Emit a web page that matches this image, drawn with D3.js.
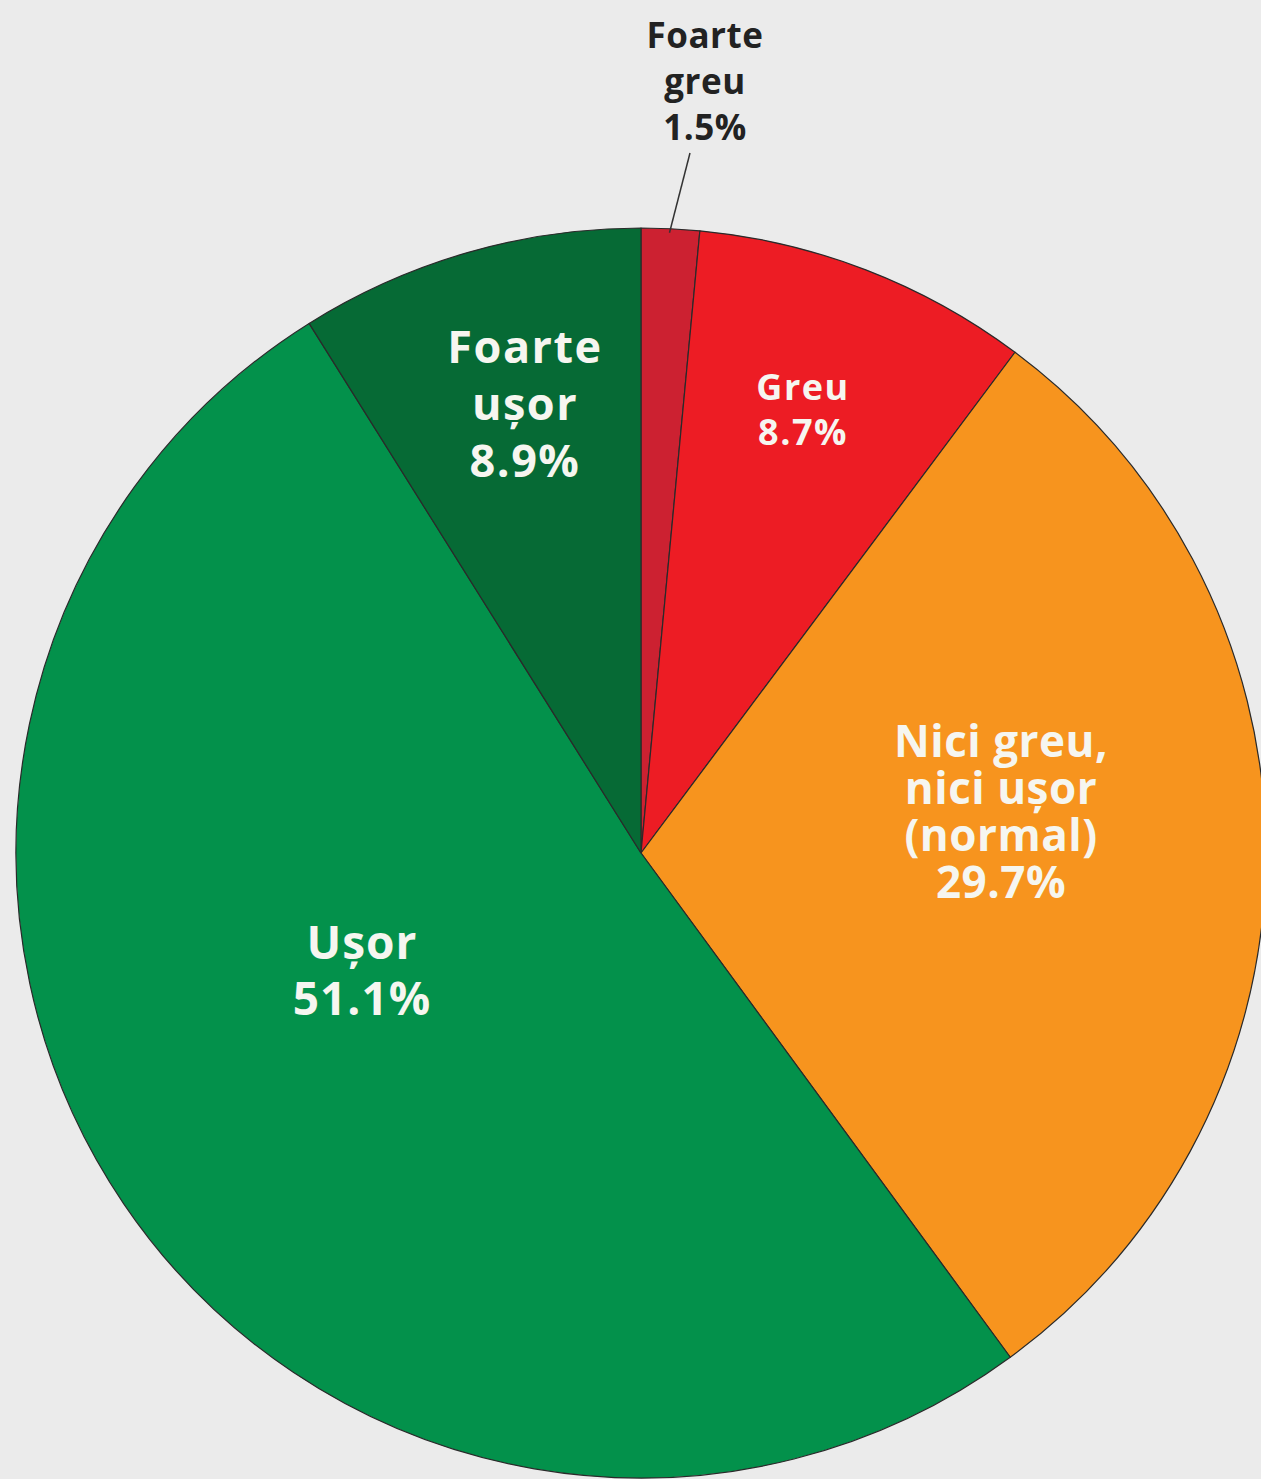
<!DOCTYPE html>
<html>
<head>
<meta charset="utf-8">
<script src="https://cdn.jsdelivr.net/npm/d3@7"></script>
<style>
  html, body { margin: 0; padding: 0; background: #ebebeb; }
  svg { display: block; }
  text { font-family: "Open Sans", "Noto Sans", sans-serif; font-weight: 700; }
</style>
</head>
<body>
<svg></svg>
<script>
// slices, clockwise from 12 o'clock
var categories = ["Foarte greu", "Greu", "Nici greu, nici ușor (normal)", "Ușor", "Foarte ușor"];
var values = [1.5, 8.7, 29.7, 51.1, 8.9];
var labelLines = [
  ["Foarte", "greu", "1.5%"],
  ["Greu", "8.7%"],
  ["Nici greu,", "nici ușor", "(normal)", "29.7%"],
  ["Ușor", "51.1%"],
  ["Foarte", "ușor", "8.9%"]
];

var width = 1261, height = 1479;
var cx = 641, cy = 853, radius = 625;

var colors = d3.scaleOrdinal()
  .domain(categories)
  .range(["#cc2131", "#ed1c24", "#f7941e", "#03914b", "#066a35"]);

// label placement (x centre, first baseline, line step, font size, letter spacing, colour)
var labelLayout = [
  {x: 705, y: 48, step: 46, size: 35, ls: 0.5, fill: "#222"},
  {x: 803, y: 400, step: 45, size: 36, ls: 1.5, fill: "#f6f6f0"},
  {x: 1001, y: 757, step: 47, size: 44, ls: 0.5, fill: "#f6f6f0"},
  {x: 362, y: 959, step: 56, size: 46, ls: 1, fill: "#f6f6f0"},
  {x: 525, y: 363, step: 57, size: 45, ls: 1.5, fill: "#f6f6f0"}
];

var data = categories.map(function(c, i) { return {name: c, value: values[i], lines: labelLines[i]} });

var svg = d3.select("svg").attr("width", width).attr("height", height);

var pie = d3.pie().sort(null).value(function(d) { return d.value });
var arc = d3.arc().innerRadius(0).outerRadius(radius);

var g = svg.append("g").attr("transform", "translate(" + cx + "," + cy + ")");

var arcs = pie(data);

g.selectAll("path")
  .data(arcs).enter()
  .append("path")
  .attr("d", arc)
  .attr("fill", function(d) { return colors(d.data.name) })
  .attr("stroke", "#2a2a2a")
  .attr("stroke-width", 1.2)
  .attr("stroke-linejoin", "round");

// leader line for the small slice
var small = arcs[0];
var mid = (small.startAngle + small.endAngle) / 2;
var edge = [Math.sin(mid) * radius, -Math.cos(mid) * radius];
svg.append("line")
  .attr("x1", cx + edge[0] - 1).attr("y1", cy + edge[1] + 4)
  .attr("x2", 690).attr("y2", 153)
  .attr("stroke", "#333").attr("stroke-width", 1.5);

svg.selectAll(".lbl")
  .data(data).enter()
  .append("text")
  .attr("class", "lbl")
  .attr("text-anchor", "middle")
  .attr("font-size", function(d, i) { return labelLayout[i].size })
  .attr("letter-spacing", function(d, i) { return labelLayout[i].ls })
  .attr("fill", function(d, i) { return labelLayout[i].fill })
  .each(function(d, i) {
    var lay = labelLayout[i];
    d3.select(this).selectAll("tspan")
      .data(d.lines).enter()
      .append("tspan")
      .attr("x", lay.x)
      .attr("y", function(t, j) { return lay.y + j * lay.step })
      .text(function(t) { return t });
  });
</script>
</body>
</html>
